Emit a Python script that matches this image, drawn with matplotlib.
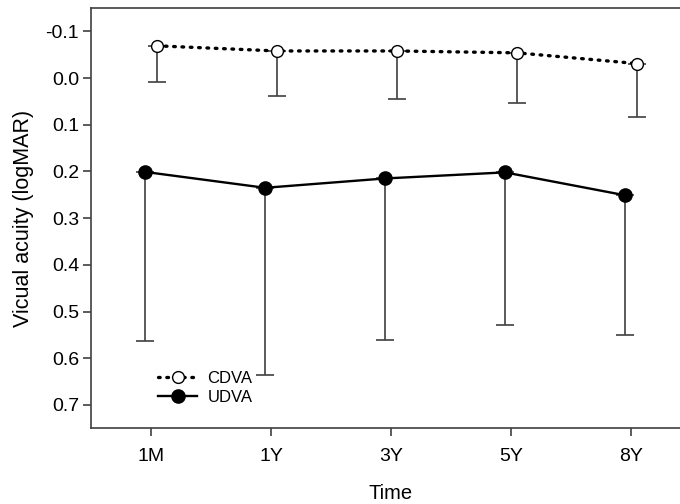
import numpy as np
import matplotlib
matplotlib.use("Agg")
from matplotlib import pyplot as plt

plt.rcParams['font.family'] = ['Liberation Sans', 'DejaVu Sans']

zaman = ["1M", "1Y", "3Y", "5Y", "8Y"]
cdva = [-0.069, -0.058, -0.058, -0.054, -0.031]
cdva_sd = [0.077, 0.096, 0.103, 0.108, 0.115]
udva = [0.201, 0.235, 0.215, 0.202, 0.251]
udva_sd = [0.362, 0.401, 0.345, 0.327, 0.300]

x = np.arange(len(zaman))
gri = "#404040"

fig = plt.figure(figsize=(6.8, 5.04), dpi=100)
ax = fig.add_axes([91/680, 1-428.3/504, 600/680, 420.3/504])

ax.errorbar(x + 0.05, cdva, yerr=[np.zeros(5), cdva_sd], fmt="none",
            ecolor=gri, elinewidth=1.2, capsize=6.5, capthick=1.2, zorder=2)
ax.errorbar(x - 0.05, udva, yerr=[np.zeros(5), udva_sd], fmt="none",
            ecolor=gri, elinewidth=1.2, capsize=6.5, capthick=1.2, zorder=2)

ax.plot(x + 0.05, cdva, linestyle=(0, (0.5, 2.0)), dash_capstyle="round",
        color="black", lw=2.4, marker="o", markersize=8.5,
        markerfacecolor="white", markeredgecolor="black", markeredgewidth=1.0,
        label="CDVA", zorder=3)
ax.plot(x - 0.05, udva, "-", color="black", lw=1.7, marker="o",
        markersize=9.5, markerfacecolor="black", label="UDVA", zorder=3)

ax.set_xlim(-0.5, 4.5)
ax.set_ylim(0.75, -0.15)
ax.set_xticks(x)
ax.set_xticklabels(zaman)
ax.set_yticks(np.arange(-0.1, 0.71, 0.1))
ax.set_yticklabels(["%.1f" % v for v in np.arange(-0.1, 0.71, 0.1)])

for s in ["left", "bottom", "top"]:
    ax.spines[s].set_color(gri)
    ax.spines[s].set_linewidth(1.2)
ax.spines["right"].set_visible(False)
ax.tick_params(axis="both", direction="out", length=6, width=1.2,
               color=gri, labelsize=14)
ax.tick_params(axis="y", pad=2.5)
ax.tick_params(axis="x", pad=8)

ax.set_xlabel("Time", fontsize=14.5, labelpad=14)
ax.set_ylabel("Vicual acuity (logMAR)", fontsize=15.5, labelpad=8)

ax.legend(loc="lower left", bbox_to_anchor=(0.112, 0.055), frameon=False,
          fontsize=12, handlelength=2.35, handletextpad=0.6,
          labelspacing=0.25, borderpad=0, borderaxespad=0)

fig.savefig("out.png", dpi=100)
